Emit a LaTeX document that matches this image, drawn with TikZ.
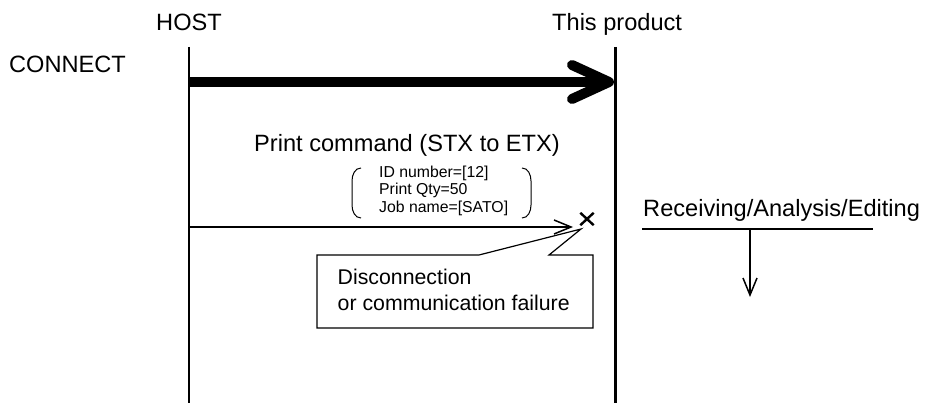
\documentclass[tikz,border=0pt]{standalone}
\usepackage{fontspec}
\setmainfont{Liberation Sans}
\usepackage{tikz}
\usetikzlibrary{arrows.meta,shapes.misc}

\begin{document}
\begin{tikzpicture}[x=1pt,y=-1pt,>={Straight Barb[length=17pt,width=14pt]},
  txt/.style={inner sep=0pt,font=\fontsize{23.6}{28}\selectfont},
  small/.style={inner sep=0pt,align=left,font=\fontsize{15.8}{17.6}\selectfont},
  life/.style={line width=2.5pt}]
\useasboundingbox (0,0) rectangle (925,403);
% lifelines
\node[txt,anchor=base] (host) at (189,31) {HOST};
\node[txt,anchor=base west] (prod) at (552,31) {This product};
\coordinate (hostTop) at (189,47);  \coordinate (hostEnd) at (189,403);
\coordinate (prodTop) at (615.5,47); \coordinate (prodEnd) at (615.5,403);
\draw[life] (hostTop) -- (hostEnd);
\draw[life] (prodTop) -- (prodEnd);
% connect
\node[txt,anchor=base west] (connect) at (9,73) {CONNECT};
\coordinate (conA) at (189,82); \coordinate (conB) at (614,82);
\draw[line width=10pt,-{Straight Barb[length=37pt,width=34pt,round]}] (conA) -- (conB);
% print command
\node[txt,anchor=base west] (cmd) at (254,152) {Print command (STX to ETX)};
\node[small,anchor=north west] (params) at (379,165.5) {ID number=[12]\\Print Qty=50\\Job name=[SATO]};
\draw[line width=1pt] (361,168) to[out=180,in=90] (352,181) -- (352,205) to[out=-90,in=180] (361,218);
\draw[line width=1pt] (522,168) to[out=0,in=90] (531,181) -- (531,205) to[out=-90,in=0] (522,218);
\coordinate (sendA) at (189,227); \coordinate (sendB) at (573,227);
\draw[->,line width=1.5pt] (sendA) -- (sendB);
\node[cross out,draw,line width=2.4pt,minimum width=11pt,minimum height=10pt,inner sep=0pt] (lost) at (587,219) {};
% callout
\draw[line width=1.2pt] (479,255) -- (581,229) -- (549,255) -- (593,255) -- (593,328)
  -- (317,328) -- (317,255) -- cycle;
\node[txt,anchor=west,align=left,font=\fontsize{21.3}{25.5}\selectfont] (fail) at (337.5,290) {Disconnection\\or communication failure};
% receiving
\node[txt,anchor=base west] (recv) at (643,217) {Receiving/Analysis/Editing};
\coordinate (recvA) at (642,229); \coordinate (recvB) at (873,229);
\draw[line width=1.2pt] (recvA) -- (recvB);
\coordinate (recvTop) at (750,229); \coordinate (recvEnd) at (750,297);
\draw[->,line width=1.5pt] (recvTop) -- (recvEnd);
\end{tikzpicture}
\end{document}
